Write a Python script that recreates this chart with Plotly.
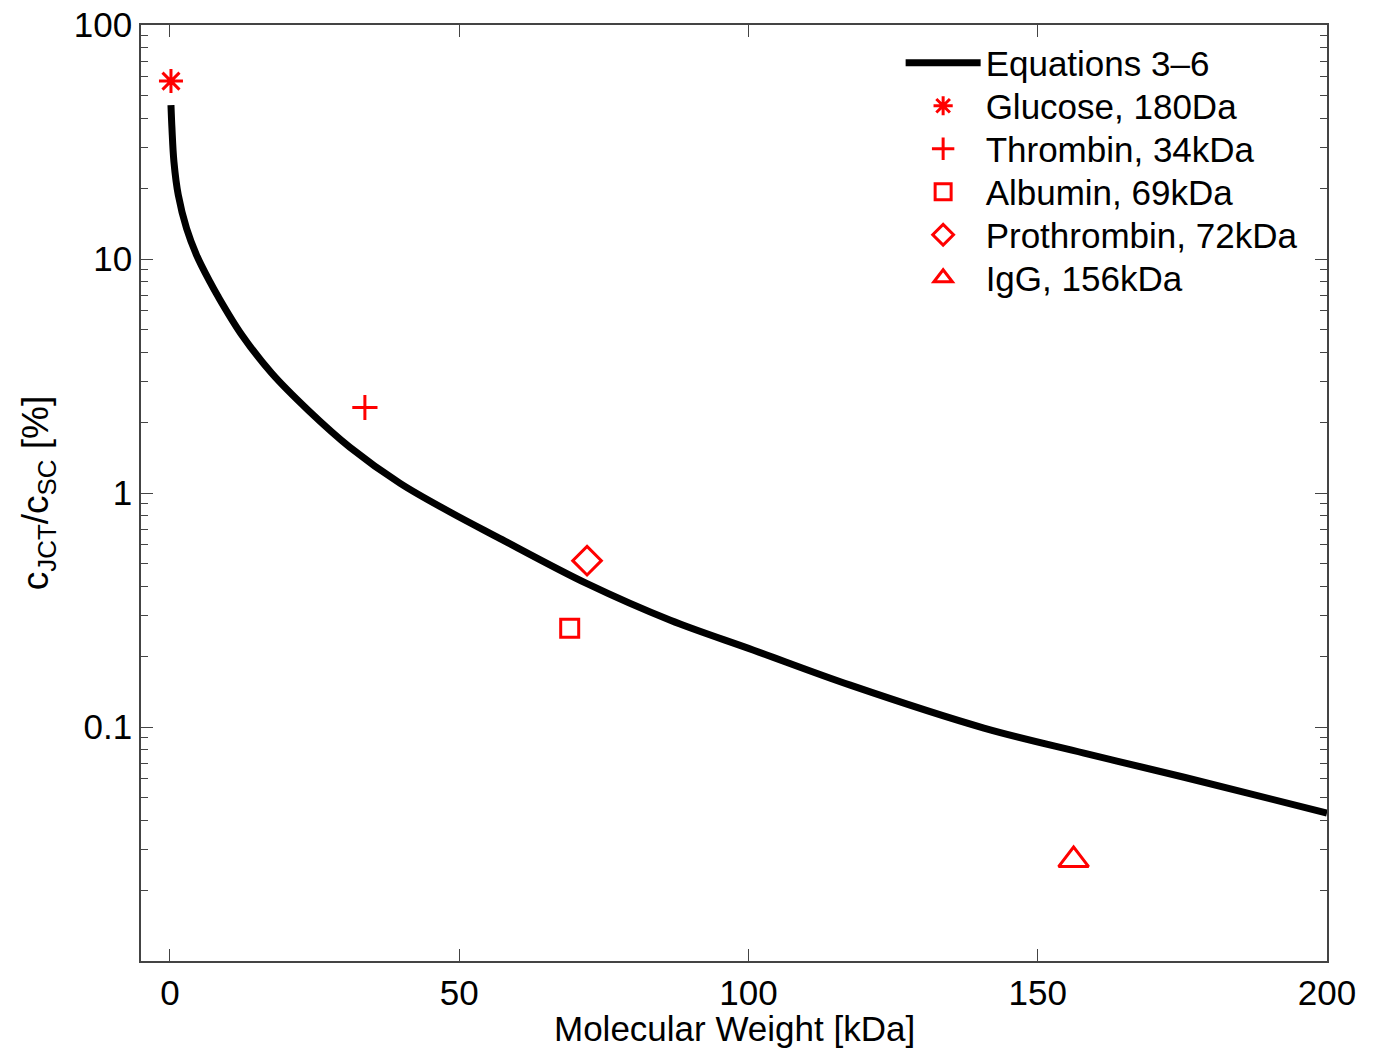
import plotly.graph_objects as go

# Curve "Equations 3-6"
mw_curve = [0.18, 0.35, 0.69, 1.44, 2.88, 4.6, 6.9, 8.2, 12.4, 17.6, 23.9, 31.1, 39.8,
            48.4, 56.5, 72.1, 86.5, 100.9, 117.6, 140.7, 158, 175.3, 200]
c_curve = [45.5, 36.2, 26.1, 18.8, 13.5, 10.4, 8.0, 7.0, 4.75, 3.25, 2.26, 1.57, 1.10,
           0.83, 0.65, 0.41, 0.286, 0.213, 0.151, 0.099, 0.0774, 0.061, 0.0429]

# Measured proteins
names = ["Glucose, 180Da", "Thrombin, 34kDa", "Albumin, 69kDa",
         "Prothrombin, 72kDa", "IgG, 156kDa"]
mw_pts = [0.18, 33.7, 69.1, 72.1, 156.2]
c_pts = [57.6, 2.32, 0.264, 0.514, 0.0270]
symbols = ["asterisk-open", "cross-thin-open", "square-open", "diamond-open", "triangle-up-open"]
sizes = [20, 18, 18, 22, 26]

x_title = "Molecular Weight [kDa]"
y_title = "c<sub>JCT</sub>/c<sub>SC</sub> [%]"

FONT = "Liberation Sans, Arial, Helvetica, sans-serif"

legend_ids = ["legend", "legend2", "legend3", "legend4", "legend5", "legend6"]

fig = go.Figure()
fig.add_trace(go.Scatter(x=mw_curve, y=c_curve, mode="lines", name="Equations 3\u20136",
                         legend=legend_ids[0],
                         line=dict(color="black", width=7, shape="spline", smoothing=1.0)))
for i, (n, x, y, s, sz) in enumerate(zip(names, mw_pts, c_pts, symbols, sizes)):
    fig.add_trace(go.Scatter(x=[x], y=[y], mode="markers", name=n,
                             legend=legend_ids[i + 1],
                             marker=dict(symbol=s, size=sz, color="red",
                                         line=dict(color="red", width=3))))

plot_top, plot_h = 25, 936
row_y = [63, 106, 149, 192, 235, 278]
legend_layout = {}
for lid, ry in zip(legend_ids, row_y):
    legend_layout[lid] = dict(x=0.6405, y=1 - (ry - plot_top) / plot_h,
                              xanchor="left", yanchor="middle",
                              bgcolor="rgba(0,0,0,0)", borderwidth=0,
                              font=dict(size=35), itemwidth=75)

fig.update_layout(
    width=1374, height=1048,
    margin=dict(l=141, r=47, t=25, b=87, autoexpand=False),
    paper_bgcolor="white", plot_bgcolor="white",
    font=dict(family=FONT, size=35, color="black"),
    showlegend=True,
    xaxis=dict(range=[-5, 200], tickvals=[0, 50, 100, 150, 200], automargin=True,
               ticks="inside", ticklen=12, tickwidth=1, tickcolor="#444",
               showline=True, linecolor="#444", linewidth=1.5, mirror="allticks",
               showgrid=False, zeroline=False),
    yaxis=dict(type="log", range=[-2, 2.0002], tickvals=[0.1, 1, 10, 100], automargin=True,
               ticktext=["0.1", "1", "10", "100"], ticklabeloverflow="allow",
               ticks="inside", ticklen=12, tickwidth=1, tickcolor="#444",
               minor=dict(ticks="inside", ticklen=7, tickwidth=1, tickcolor="#444",
                          tickvals=[m * 10 ** e for e in range(-2, 2) for m in range(2, 10)]),
               showline=True, linecolor="#444", linewidth=1.5, mirror="allticks",
               showgrid=False, zeroline=False,
               title=dict(text=y_title, standoff=14, font=dict(size=37))),
    **legend_layout,
)
fig.add_annotation(text=x_title, xref="paper", yref="paper", x=0.5, y=-0.0725,
                   xanchor="center", yanchor="middle", showarrow=False,
                   font=dict(size=35, color="black", family=FONT))

fig.write_html("out.html", config={"displayModeBar": False},
               post_script="document.body.style.margin='0';")
